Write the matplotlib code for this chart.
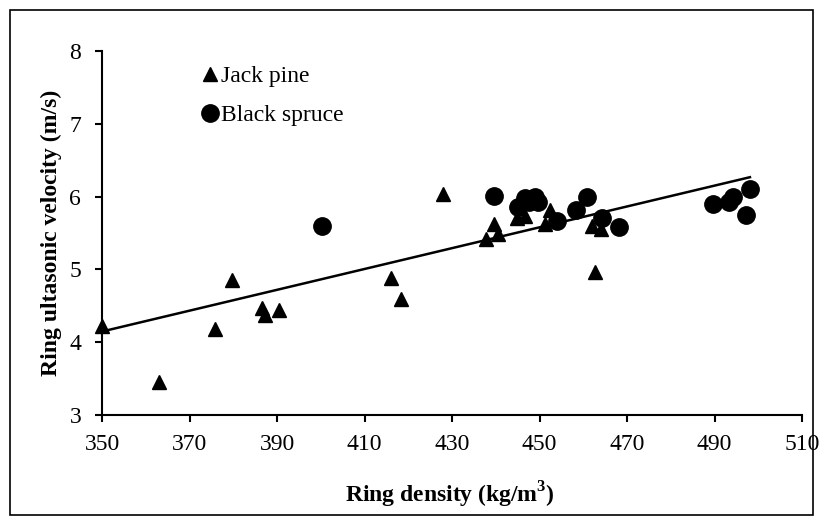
import numpy as np
import matplotlib.pyplot as plt
from matplotlib.patches import Rectangle

# Jack pine (triangles)
jp_density = [350.0, 363.0, 375.8, 379.7, 386.6, 387.3, 390.5, 416.1, 418.3, 427.9,
              437.8, 439.6, 440.5, 444.9, 446.7, 451.3, 452.4, 462.0, 462.7, 464.1]
jp_velocity = [4.22, 3.45, 4.18, 4.85, 4.47, 4.37, 4.44, 4.88, 4.60, 6.03,
               5.42, 5.63, 5.48, 5.70, 5.73, 5.62, 5.82, 5.59, 4.96, 5.55]

# Black spruce (circles)
bs_density = [400.3, 439.6, 445.1, 446.7, 447.5, 449.0, 449.7, 454.0, 458.3, 460.9,
              464.3, 468.2, 489.7, 493.3, 494.2, 497.2, 498.1]
bs_velocity = [5.59, 6.01, 5.86, 5.98, 5.93, 6.00, 5.93, 5.66, 5.81, 5.99,
               5.71, 5.58, 5.90, 5.93, 5.99, 5.74, 6.10]

plt.rcParams['font.family'] = ['Liberation Serif', 'DejaVu Serif']

fig = plt.figure(figsize=(8.23, 5.25), dpi=100)
ax = fig.add_axes([0.124, 0.2095, 0.8505, 0.6935])

ax.plot(jp_density, jp_velocity, '^', color='black', markersize=9.5, label='Jack pine', clip_on=False)
ax.plot(bs_density, bs_velocity, 'o', color='black', markersize=12.5, label='Black spruce', clip_on=False)

# linear trend over all samples
x_all = np.array(jp_density + bs_density)
y_all = np.array(jp_velocity + bs_velocity)
slope, intercept = np.polyfit(x_all, y_all, 1)
xs = np.array([x_all.min(), x_all.max()])
ax.plot(xs, slope * xs + intercept, color='black', linewidth=1.8)

ax.set_xlim(350, 510)
ax.set_ylim(3, 8)
ax.set_xticks(np.arange(350, 511, 20))
ax.set_yticks(np.arange(3, 9, 1))
ax.tick_params(direction='out', length=5, width=1.5, labelsize=17)
ax.tick_params(axis='x', pad=9)
ax.tick_params(axis='y', pad=10)
for s in ['top', 'right']:
    ax.spines[s].set_visible(False)
for s in ['left', 'bottom']:
    ax.spines[s].set_linewidth(1.5)

ax.set_xlabel('Ring density (kg/m$^{\\mathregular{3}}$)', fontsize=17, fontweight='bold')
ax.set_ylabel('Ring ultasonic velocity (m/s)', fontsize=17, fontweight='bold')
ax.xaxis.label.set_va('center')
ax.yaxis.label.set_va('center')
ax.xaxis.set_label_coords(0.497, -0.218)
ax.yaxis.set_label_coords(-0.073, 0.5)

ax.legend(loc='upper left', bbox_to_anchor=(0.131, 0.985), frameon=False, fontsize=17,
          handlelength=0.6, handletextpad=0.15, labelspacing=0.72, borderaxespad=0)

fig.patches.append(Rectangle((10 / 823, 10 / 525), 803 / 823, 505 / 525, transform=fig.transFigure,
                             fill=False, edgecolor='black', linewidth=1.2))

fig.savefig('out.png', dpi=100)
